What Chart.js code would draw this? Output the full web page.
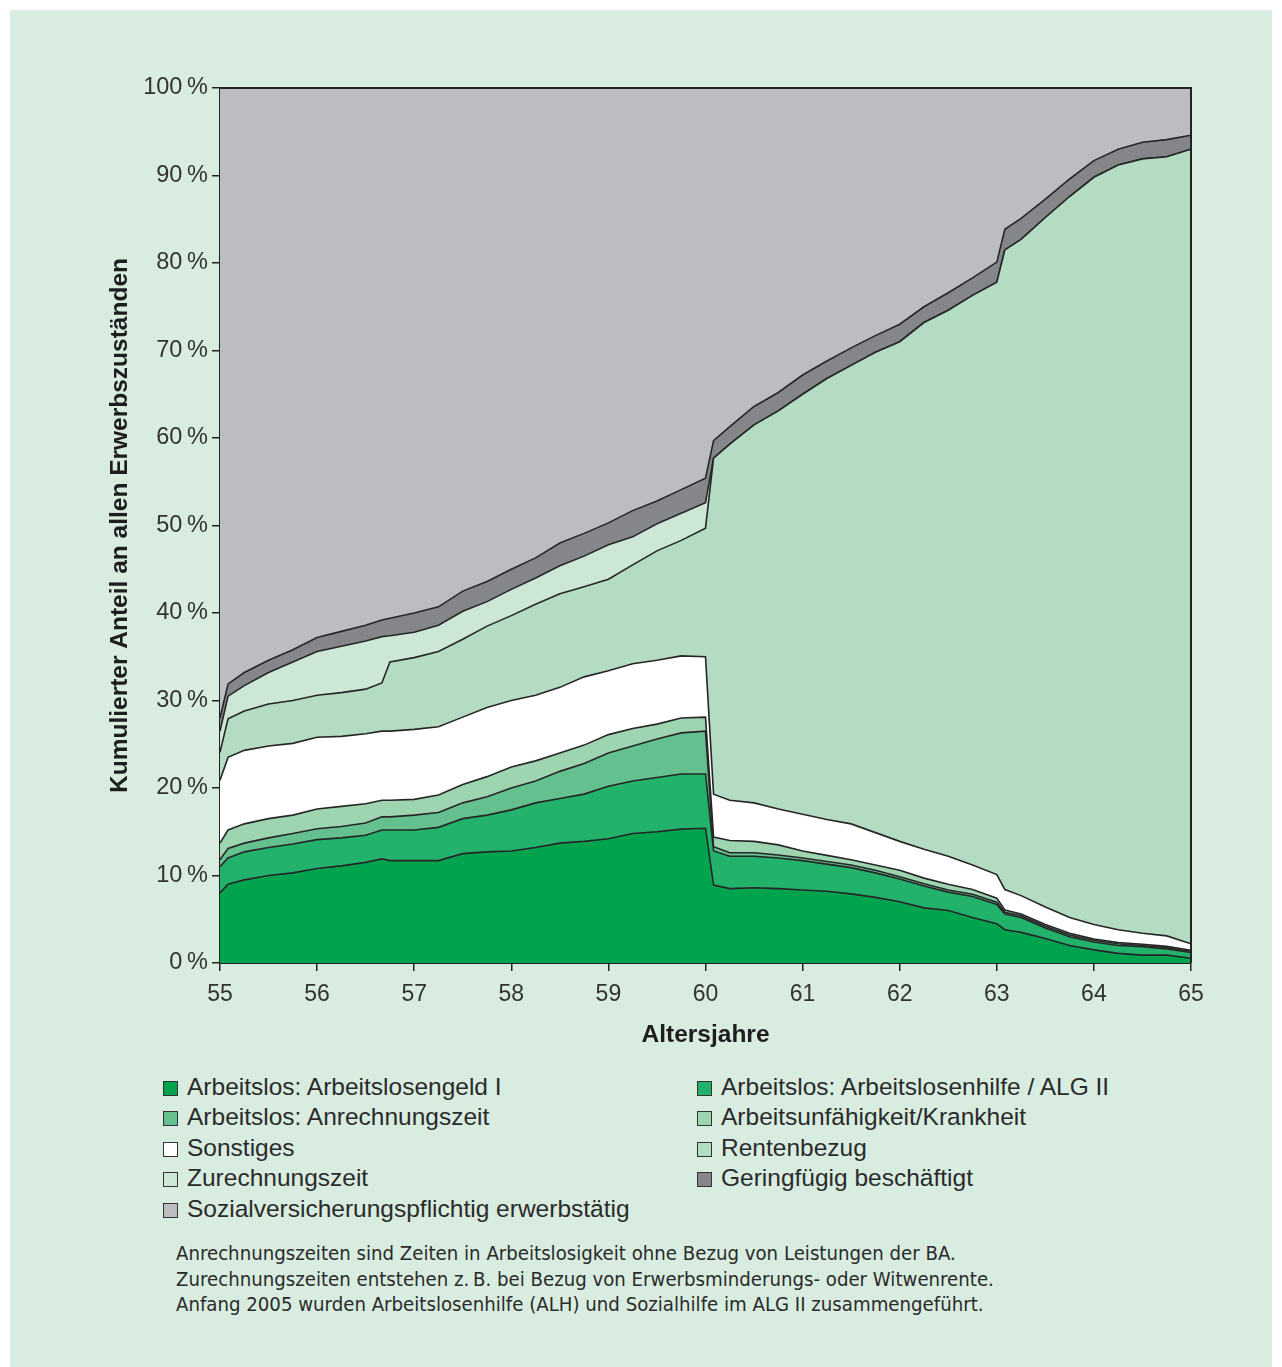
<!DOCTYPE html>
<html>
<head>
<meta charset="utf-8">
<script src="https://cdn.jsdelivr.net/npm/chart.js@4.4.1/dist/chart.umd.min.js"></script>
<style>
  html, body { margin: 0; padding: 0; background: #ffffff; }
  #frame { position: absolute; left: 10px; top: 10px; width: 1262px; height: 1357px; background: #d8ece0; }
  #chartBox { position: absolute; left: 0; top: 0; width: 1282px; height: 1058px; }
  #legend { position: absolute; left: 0; top: 0; font-family: "Liberation Sans", Arial, sans-serif; font-size: 24.5px; color: #2b2b2b; }
  .item { position: absolute; white-space: nowrap; line-height: 28px; }
  .sw { display: inline-block; width: 13px; height: 13px; border: 1.5px solid #333; vertical-align: -1px; margin-right: 9px; }
  #note { position: absolute; left: 176px; top: 1241px; font-family: "Liberation Sans Narrow", "DejaVu Sans Condensed", sans-serif; font-size: 20.2px; line-height: 25.5px; color: #2b2b2b; }
</style>
</head>
<body>
<div id="frame"></div>
<div id="chartBox"><canvas id="c"></canvas></div>
<div id="legend"></div>
<div id="note">Anrechnungszeiten sind Zeiten in Arbeitslosigkeit ohne Bezug von Leistungen der BA.<br>Zurechnungszeiten entstehen z.&#8201;B. bei Bezug von Erwerbsminderungs- oder Witwenrente.<br>Anfang 2005 wurden Arbeitslosenhilfe (ALH) und Sozialhilfe im ALG II zusammengeführt.</div>
<script>
// Alter in Jahren (x-Werte)
const ages = [55.0, 55.083, 55.25, 55.5, 55.75, 56.0, 56.25, 56.5, 56.667, 56.75,
  57.0, 57.25, 57.5, 57.75, 58.0, 58.25, 58.5, 58.75, 59.0, 59.25, 59.5, 59.75, 60.0,
  60.083, 60.25, 60.5, 60.75, 61.0, 61.25, 61.5, 61.75, 62.0, 62.25, 62.5, 62.75, 63.0,
  63.083, 63.25, 63.5, 63.75, 64.0, 64.25, 64.5, 64.75, 65.0];

// Anteile in Prozent je Erwerbszustand (von unten nach oben gestapelt)
const alg1 = [8.0, 9.0, 9.5, 10.0, 10.3, 10.8, 11.1, 11.5, 11.9, 11.7,
  11.7, 11.7, 12.5, 12.7, 12.8, 13.2, 13.7, 13.9, 14.2, 14.8, 15.0, 15.3, 15.4,
  8.9, 8.5, 8.6, 8.5, 8.35, 8.2, 7.9, 7.5, 7.0, 6.3, 6.0, 5.2, 4.5,
  3.8, 3.5, 2.8, 2.0, 1.5, 1.1, 0.9, 0.9, 0.55];
const alh = [3.0, 3.0, 3.2, 3.2, 3.3, 3.3, 3.2, 3.1, 3.3, 3.5,
  3.5, 3.8, 4.0, 4.2, 4.7, 5.1, 5.1, 5.4, 6.0, 6.0, 6.2, 6.3, 6.2,
  3.9, 3.7, 3.6, 3.5, 3.35, 3.1, 3.0, 2.8, 2.6, 2.5, 2.1, 2.4, 2.2,
  1.8, 1.7, 1.2, 1.0, 0.9, 0.9, 0.95, 0.7, 0.65];
const anrechnung = [0.8, 1.1, 1.0, 1.1, 1.2, 1.25, 1.3, 1.4, 1.5, 1.5,
  1.7, 1.7, 1.8, 2.1, 2.5, 2.5, 3.1, 3.5, 3.8, 4.0, 4.4, 4.7, 4.9,
  0.5, 0.4, 0.4, 0.35, 0.3, 0.3, 0.3, 0.3, 0.25, 0.25, 0.25, 0.25, 0.25,
  0.2, 0.2, 0.2, 0.2, 0.2, 0.2, 0.15, 0.15, 0.15];
const krankheit = [1.9, 2.1, 2.2, 2.2, 2.1, 2.25, 2.3, 2.2, 1.9, 1.9,
  1.8, 2.0, 2.1, 2.3, 2.4, 2.3, 2.1, 2.1, 2.1, 2.0, 1.7, 1.7, 1.6,
  1.1, 1.4, 1.3, 1.15, 0.8, 0.7, 0.6, 0.6, 0.75, 0.65, 0.65, 0.55, 0.45,
  0.25, 0.2, 0.2, 0.2, 0.15, 0.15, 0.15, 0.15, 0.1];
const sonstiges = [7.2, 8.3, 8.4, 8.3, 8.2, 8.2, 8.0, 8.0, 7.9, 7.9,
  8.0, 7.8, 7.7, 7.9, 7.6, 7.5, 7.5, 7.8, 7.3, 7.4, 7.3, 7.1, 6.9,
  4.9, 4.6, 4.4, 4.1, 4.2, 4.1, 4.1, 3.7, 3.3, 3.3, 3.2, 2.8, 2.7,
  2.35, 2.1, 2.0, 1.8, 1.65, 1.45, 1.25, 1.2, 0.75];
const rente = [3.2, 4.4, 4.5, 4.8, 4.9, 4.8, 5.0, 5.1, 5.5, 7.9,
  8.2, 8.6, 8.9, 9.3, 9.7, 10.4, 10.7, 10.3, 10.45, 11.3, 12.5, 13.2, 14.7,
  38.4, 40.7, 43.2, 45.5, 48.0, 50.4, 52.4, 54.9, 57.1, 60.2, 62.4, 65.1, 67.7,
  73.1, 75.0, 78.8, 82.4, 85.4, 87.4, 88.5, 89.05, 90.8];
const zurechnung = [2.4, 2.6, 2.9, 3.6, 4.4, 5.0, 5.3, 5.5, 5.3, 3.0,
  2.9, 3.0, 3.2, 2.8, 3.0, 3.0, 3.2, 3.5, 3.95, 3.2, 3.1, 3.1, 2.9,
  0, 0, 0, 0, 0, 0, 0, 0, 0, 0, 0, 0, 0,
  0, 0, 0, 0, 0, 0, 0, 0, 0];
const geringfuegig = [1.5, 1.4, 1.5, 1.4, 1.4, 1.6, 1.7, 1.8, 1.9, 2.0,
  2.2, 2.1, 2.3, 2.3, 2.3, 2.3, 2.6, 2.6, 2.5, 3.0, 2.6, 2.7, 2.8,
  2.0, 2.0, 2.1, 2.1, 2.2, 2.0, 2.0, 1.9, 2.0, 1.8, 2.0, 2.0, 2.3,
  2.35, 2.4, 2.1, 2.0, 1.9, 1.8, 1.9, 1.95, 1.6];
const svPflichtig = [72.0, 68.1, 66.8, 65.4, 64.2, 62.8, 62.1, 61.4, 60.8, 60.6,
  60.0, 59.3, 57.5, 56.4, 55.0, 53.7, 52.0, 50.9, 49.7, 48.3, 47.2, 45.9, 44.6,
  40.3, 38.7, 36.4, 34.8, 32.8, 31.2, 29.7, 28.3, 27.0, 25.0, 23.4, 21.7, 19.9,
  16.15, 14.9, 12.7, 10.4, 8.3, 7.0, 6.2, 5.9, 5.4];

const xTicks = [55, 56, 57, 58, 59, 60, 61, 62, 63, 64, 65];
const yTicks = [0, 10, 20, 30, 40, 50, 60, 70, 80, 90, 100];

const seriesNames = ['Arbeitslos: Arbeitslosengeld I', 'Arbeitslos: Arbeitslosenhilfe / ALG II',
  'Arbeitslos: Anrechnungszeit', 'Arbeitsunfähigkeit/Krankheit', 'Sonstiges', 'Rentenbezug',
  'Zurechnungszeit', 'Geringfügig beschäftigt', 'Sozialversicherungspflichtig erwerbstätig'];
const seriesData = [alg1, alh, anrechnung, krankheit, sonstiges, rente, zurechnung, geringfuegig, svPflichtig];
const colors = ['#00a34e', '#22b26b', '#64c18f', '#9dd5b0', '#ffffff', '#b3dcc2', '#cce7d5', '#858689', '#bcbdc1'];

const FONT = '"Liberation Sans", Arial, sans-serif';

const frameLines = {
  id: 'frameLines',
  afterDraw: (chart) => {
    const a = chart.chartArea;
    const ctx = chart.ctx;
    ctx.save();
    ctx.strokeStyle = '#222';
    ctx.lineWidth = 2;
    ctx.beginPath();
    ctx.moveTo(a.left, a.top);
    ctx.lineTo(a.right, a.top);
    ctx.lineTo(a.right, a.bottom);
    ctx.stroke();
    ctx.restore();
  }
};

const datasets = seriesData.map((vals, i) => ({
  label: seriesNames[i],
  data: vals.map((v, j) => ({ x: ages[j], y: v })),
  backgroundColor: colors[i],
  borderColor: '#262626',
  borderWidth: 1.6,
  pointRadius: 0,
  tension: 0,
  fill: i === 0 ? 'origin' : '-1'
}));

new Chart(document.getElementById('c'), {
  type: 'line',
  data: { datasets },
  options: {
    responsive: true, maintainAspectRatio: false, animation: false,
    layout: { padding: { top: 88, left: 106, right: 91, bottom: 0 } },
    plugins: { legend: { display: false }, tooltip: { enabled: false } },
    scales: {
      x: {
        type: 'linear', min: 55, max: 65,
        afterBuildTicks: (s) => { s.ticks = xTicks.map(v => ({ value: v })); },
        afterFit: (s) => { s.height = 95; },
        ticks: { color: '#333', font: { family: FONT, size: 23 }, padding: 10 },
        grid: { drawOnChartArea: false, drawTicks: true, tickLength: 8, color: '#222', lineWidth: 1.5 },
        border: { display: true, color: '#222', width: 2 },
        title: { display: true, text: 'Altersjahre', color: '#1e1e1e', font: { family: FONT, size: 24.5, weight: 'bold' }, padding: { top: 4, bottom: 8 } }
      },
      y: {
        stacked: true, min: 0, max: 100,
        afterBuildTicks: (s) => { s.ticks = yTicks.map(v => ({ value: v })); },
        afterFit: (s) => { s.width = 114; },
        ticks: { color: '#333', font: { family: FONT, size: 23.5 }, padding: 4, callback: (v) => v + '\u2009%' },
        grid: { drawOnChartArea: false, drawTicks: true, tickLength: 8, color: '#222', lineWidth: 1.5 },
        border: { display: true, color: '#222', width: 2 },
        title: { display: true, text: 'Kumulierter Anteil an allen Erwerbszuständen', color: '#1e1e1e', font: { family: FONT, size: 24.5, weight: 'bold' }, padding: { top: 0, bottom: 4 } }
      }
    }
  },
  plugins: [frameLines]
});

// Legende: zwei Spalten
const legend = document.getElementById('legend');
const legendPos = [[163, 1073], [697, 1073], [163, 1103], [697, 1103], [163, 1134], [697, 1134], [163, 1164], [697, 1164], [163, 1195]];
seriesNames.forEach((name, i) => {
  const d = document.createElement('div');
  d.className = 'item';
  d.style.left = legendPos[i][0] + 'px';
  d.style.top = legendPos[i][1] + 'px';
  d.innerHTML = '<span class="sw" style="background:' + colors[i] + '"></span>' + name;
  legend.appendChild(d);
});
</script>
</body>
</html>
